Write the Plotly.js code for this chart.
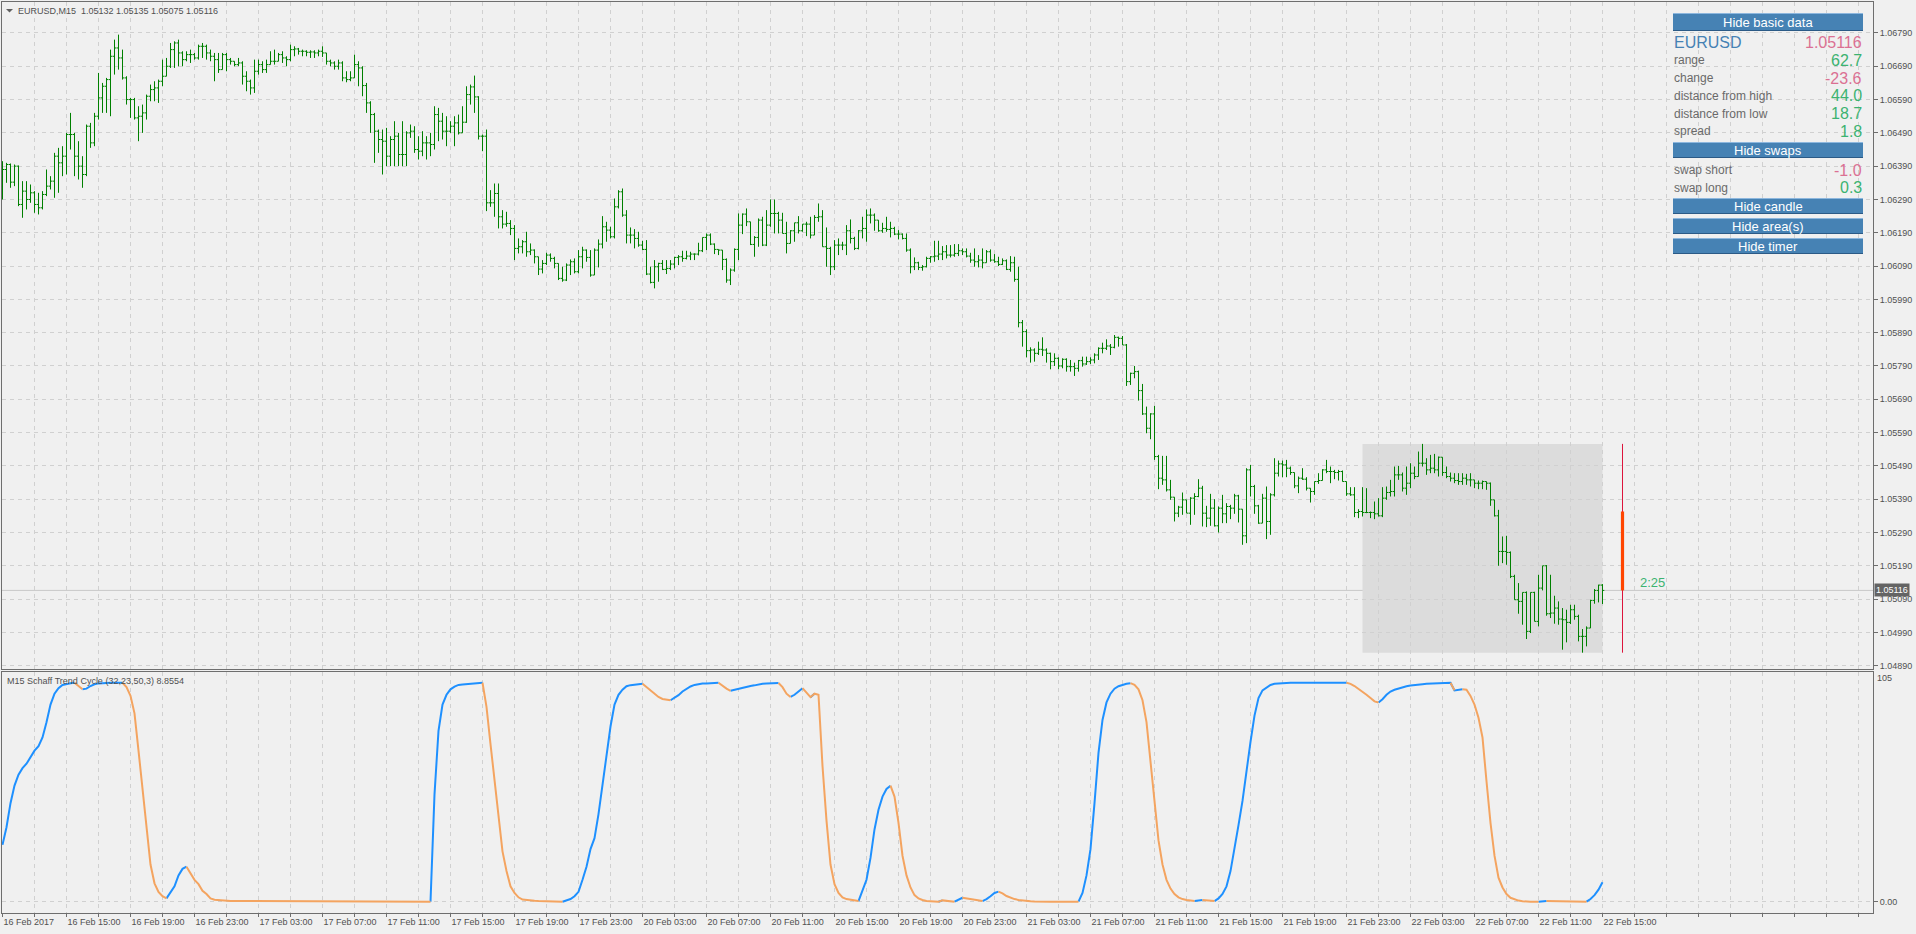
<!DOCTYPE html>
<html><head><meta charset="utf-8">
<script src="https://cdn.plot.ly/plotly-3.0.1.min.js"></script>
<style>html,body{margin:0;padding:0;background:#F0F0F0;overflow:hidden}#chart{width:1916px;height:934px}</style>
</head><body><div id="chart"></div>
<script>
const symbol = 'EURUSD,M15';
const indicatorName = 'M15 Schaff Trend Cycle (32,23,50,3)';
const timeLabels = ['16 Feb 2017','16 Feb 15:00','16 Feb 19:00','16 Feb 23:00','17 Feb 03:00','17 Feb 07:00','17 Feb 11:00','17 Feb 15:00','17 Feb 19:00','17 Feb 23:00','20 Feb 03:00','20 Feb 07:00','20 Feb 11:00','20 Feb 15:00','20 Feb 19:00','20 Feb 23:00','21 Feb 03:00','21 Feb 07:00','21 Feb 11:00','21 Feb 15:00','21 Feb 19:00','21 Feb 23:00','22 Feb 03:00','22 Feb 07:00','22 Feb 11:00','22 Feb 15:00'];
const barsPerLabel = 16;
const dayStartIndex = 340;
const timerText = '2:25';
const panelSymbol = 'EURUSD';
const basicLabels = ['range','change','distance from high','distance from low','spread'];
const basicValues = [62.7, -23.6, 44.0, 18.7, 1.8];
const swapLabels = ['swap short','swap long'];
const swapValues = [-1.0, 0.3];
const buttonLabels = ['Hide basic data','Hide swaps','Hide candle','Hide area(s)','Hide timer'];

const open = [
1.06300,1.06380,1.06395,1.06342,1.06390,1.06275,1.06315,1.06290,1.06310,1.06275,
1.06265,1.06305,1.06330,1.06345,1.06420,1.06400,1.06420,1.06485,1.06485,1.06420,
1.06390,1.06365,1.06510,1.06460,1.06540,1.06595,1.06630,1.06650,1.06720,1.06745,
1.06715,1.06655,1.06590,1.06590,1.06535,1.06540,1.06550,1.06600,1.06620,1.06625,
1.06645,1.06660,1.06690,1.06740,1.06760,1.06730,1.06710,1.06725,1.06725,1.06715,
1.06750,1.06750,1.06730,1.06720,1.06710,1.06680,1.06725,1.06710,1.06705,1.06695,
1.06700,1.06660,1.06645,1.06625,1.06675,1.06695,1.06680,1.06695,1.06705,1.06705,
1.06725,1.06715,1.06710,1.06740,1.06742,1.06735,1.06735,1.06732,1.06733,1.06730,
1.06735,1.06730,1.06705,1.06700,1.06690,1.06700,1.06655,1.06650,1.06655,1.06695,
1.06685,1.06632,1.06580,1.06545,1.06495,1.06470,1.06465,1.06420,1.06470,1.06480,
1.06425,1.06425,1.06490,1.06495,1.06440,1.06435,1.06460,1.06460,1.06455,1.06545,
1.06525,1.06495,1.06495,1.06510,1.06520,1.06490,1.06522,1.06605,1.06628,1.06598,
1.06480,1.06480,1.06280,1.06280,1.06308,1.06238,1.06216,1.06218,1.06203,1.06143,
1.06148,1.06163,1.06133,1.06138,1.06118,1.06081,1.06098,1.06123,1.06113,1.06098,
1.06053,1.06048,1.06093,1.06103,1.06073,1.06118,1.06138,1.06116,1.06063,1.06138,
1.06156,1.06208,1.06198,1.06178,1.06268,1.06313,1.06243,1.06183,1.06183,1.06173,
1.06153,1.06140,1.06066,1.06041,1.06088,1.06098,1.06080,1.06083,1.06096,1.06116,
1.06118,1.06113,1.06120,1.06126,1.06126,1.06136,1.06176,1.06183,1.06156,1.06140,
1.06138,1.06110,1.06048,1.06078,1.06140,1.06213,1.06246,1.06223,1.06155,1.06176,
1.06228,1.06153,1.06213,1.06248,1.06248,1.06228,1.06188,1.06158,1.06196,1.06220,
1.06196,1.06216,1.06216,1.06183,1.06236,1.06238,1.06148,1.06143,1.06088,1.06153,
1.06153,1.06153,1.06196,1.06173,1.06143,1.06196,1.06203,1.06243,1.06243,1.06228,
1.06196,1.06203,1.06200,1.06203,1.06186,1.06186,1.06173,1.06138,1.06088,1.06100,
1.06086,1.06088,1.06113,1.06118,1.06120,1.06126,1.06133,1.06123,1.06123,1.06128,
1.06136,1.06133,1.06120,1.06108,1.06103,1.06108,1.06100,1.06133,1.06108,1.06103,
1.06095,1.06106,1.06080,1.06100,1.06050,1.05920,1.05893,1.05836,1.05838,1.05828,
1.05840,1.05838,1.05828,1.05803,1.05813,1.05790,1.05810,1.05788,1.05788,1.05783,
1.05806,1.05796,1.05803,1.05808,1.05823,1.05843,1.05843,1.05850,1.05846,1.05876,
1.05873,1.05853,1.05743,1.05768,1.05773,1.05716,1.05646,1.05603,1.05646,1.05518,
1.05453,1.05448,1.05418,1.05396,1.05348,1.05366,1.05388,1.05348,1.05393,1.05398,
1.05423,1.05348,1.05333,1.05363,1.05310,1.05363,1.05346,1.05368,1.05363,1.05400,
1.05360,1.05280,1.05478,1.05428,1.05370,1.05318,1.05393,1.05323,1.05403,1.05468,
1.05496,1.05493,1.05483,1.05470,1.05430,1.05453,1.05450,1.05423,1.05413,1.05443,
1.05446,1.05478,1.05473,1.05473,1.05470,1.05473,1.05443,1.05406,1.05403,1.05350,
1.05353,1.05350,1.05350,1.05350,1.05346,1.05340,1.05393,1.05410,1.05413,1.05463,
1.05463,1.05423,1.05438,1.05468,1.05458,1.05498,1.05498,1.05478,1.05483,1.05478,
1.05516,1.05470,1.05458,1.05453,1.05446,1.05443,1.05453,1.05448,1.05448,1.05438,
1.05438,1.05443,1.05438,1.05388,1.05340,1.05233,1.05233,1.05230,1.05158,1.05088,
1.05083,1.05110,1.04993,1.05110,1.05023,1.05123,1.05190,1.05046,1.05048,1.05063,
1.05030,1.05028,1.05020,1.05058,1.05038,1.04978,1.04978,1.05003,1.05086,1.05116,
1.05132];

const high = [
1.06405,1.06400,1.06398,1.06395,1.06392,1.06345,1.06345,1.06335,1.06315,1.06310,
1.06315,1.06380,1.06360,1.06430,1.06445,1.06450,1.06490,1.06550,1.06490,1.06465,
1.06420,1.06515,1.06520,1.06550,1.06670,1.06640,1.06655,1.06740,1.06770,1.06785,
1.06740,1.06660,1.06595,1.06595,1.06570,1.06575,1.06605,1.06635,1.06645,1.06650,
1.06710,1.06715,1.06760,1.06765,1.06770,1.06735,1.06735,1.06740,1.06730,1.06755,
1.06760,1.06755,1.06740,1.06730,1.06730,1.06730,1.06730,1.06715,1.06705,1.06715,
1.06705,1.06675,1.06650,1.06710,1.06710,1.06705,1.06710,1.06735,1.06740,1.06730,
1.06735,1.06720,1.06755,1.06750,1.06745,1.06740,1.06738,1.06738,1.06738,1.06740,
1.06750,1.06730,1.06710,1.06705,1.06710,1.06705,1.06675,1.06675,1.06725,1.06705,
1.06690,1.06640,1.06585,1.06550,1.06500,1.06500,1.06505,1.06480,1.06525,1.06490,
1.06525,1.06495,1.06515,1.06510,1.06480,1.06495,1.06480,1.06490,1.06570,1.06565,
1.06550,1.06540,1.06525,1.06540,1.06545,1.06570,1.06630,1.06635,1.06662,1.06600,
1.06485,1.06500,1.06318,1.06338,1.06338,1.06258,1.06253,1.06228,1.06213,1.06173,
1.06168,1.06193,1.06158,1.06140,1.06118,1.06108,1.06130,1.06128,1.06118,1.06098,
1.06088,1.06098,1.06110,1.06113,1.06138,1.06148,1.06140,1.06138,1.06143,1.06170,
1.06240,1.06223,1.06208,1.06293,1.06318,1.06323,1.06258,1.06206,1.06201,1.06193,
1.06166,1.06168,1.06088,1.06108,1.06100,1.06108,1.06108,1.06108,1.06118,1.06123,
1.06136,1.06136,1.06133,1.06128,1.06160,1.06176,1.06188,1.06188,1.06158,1.06140,
1.06138,1.06113,1.06083,1.06143,1.06248,1.06248,1.06263,1.06223,1.06180,1.06233,
1.06238,1.06258,1.06290,1.06290,1.06253,1.06250,1.06223,1.06198,1.06220,1.06240,
1.06216,1.06223,1.06238,1.06243,1.06278,1.06258,1.06206,1.06148,1.06168,1.06173,
1.06163,1.06213,1.06230,1.06178,1.06198,1.06238,1.06260,1.06263,1.06248,1.06228,
1.06220,1.06238,1.06223,1.06208,1.06198,1.06188,1.06188,1.06143,1.06116,1.06103,
1.06093,1.06118,1.06120,1.06166,1.06166,1.06150,1.06153,1.06153,1.06156,1.06156,
1.06143,1.06143,1.06130,1.06143,1.06123,1.06143,1.06138,1.06140,1.06126,1.06118,
1.06113,1.06110,1.06120,1.06118,1.06088,1.05928,1.05900,1.05846,1.05843,1.05863,
1.05876,1.05843,1.05830,1.05828,1.05816,1.05813,1.05813,1.05808,1.05800,1.05808,
1.05818,1.05818,1.05816,1.05828,1.05846,1.05860,1.05870,1.05856,1.05883,1.05878,
1.05880,1.05856,1.05770,1.05790,1.05776,1.05736,1.05668,1.05648,1.05670,1.05523,
1.05520,1.05520,1.05448,1.05396,1.05370,1.05410,1.05388,1.05396,1.05408,1.05450,
1.05430,1.05370,1.05406,1.05390,1.05368,1.05403,1.05378,1.05373,1.05406,1.05403,
1.05360,1.05483,1.05493,1.05433,1.05373,1.05406,1.05428,1.05408,1.05513,1.05506,
1.05506,1.05508,1.05488,1.05470,1.05458,1.05483,1.05456,1.05423,1.05443,1.05468,
1.05480,1.05508,1.05488,1.05478,1.05478,1.05476,1.05443,1.05426,1.05426,1.05360,
1.05426,1.05423,1.05353,1.05383,1.05393,1.05426,1.05428,1.05448,1.05488,1.05490,
1.05470,1.05488,1.05498,1.05488,1.05533,1.05556,1.05513,1.05523,1.05526,1.05518,
1.05516,1.05488,1.05470,1.05468,1.05468,1.05468,1.05466,1.05468,1.05448,1.05446,
1.05446,1.05443,1.05440,1.05388,1.05358,1.05278,1.05280,1.05233,1.05163,1.05138,
1.05110,1.05113,1.05110,1.05112,1.05163,1.05190,1.05192,1.05163,1.05100,1.05083,
1.05063,1.05058,1.05073,1.05073,1.05043,1.05000,1.05008,1.05088,1.05120,1.05133,
1.05135];

const low = [
1.06290,1.06340,1.06325,1.06330,1.06270,1.06235,1.06260,1.06280,1.06250,1.06245,
1.06260,1.06300,1.06320,1.06295,1.06310,1.06360,1.06365,1.06440,1.06360,1.06350,
1.06325,1.06360,1.06445,1.06450,1.06530,1.06550,1.06550,1.06540,1.06665,1.06680,
1.06650,1.06575,1.06535,1.06530,1.06465,1.06490,1.06530,1.06585,1.06585,1.06580,
1.06630,1.06660,1.06685,1.06685,1.06690,1.06690,1.06705,1.06700,1.06710,1.06710,
1.06715,1.06710,1.06705,1.06645,1.06670,1.06680,1.06675,1.06695,1.06690,1.06690,
1.06635,1.06615,1.06605,1.06610,1.06665,1.06670,1.06670,1.06695,1.06695,1.06705,
1.06700,1.06690,1.06705,1.06720,1.06725,1.06720,1.06720,1.06715,1.06715,1.06720,
1.06718,1.06695,1.06690,1.06680,1.06680,1.06645,1.06642,1.06645,1.06655,1.06630,
1.06600,1.06550,1.06490,1.06400,1.06430,1.06365,1.06390,1.06390,1.06390,1.06390,
1.06390,1.06390,1.06475,1.06430,1.06410,1.06420,1.06410,1.06420,1.06440,1.06465,
1.06470,1.06450,1.06490,1.06450,1.06485,1.06490,1.06520,1.06575,1.06550,1.06470,
1.06435,1.06255,1.06268,1.06238,1.06203,1.06203,1.06208,1.06183,1.06108,1.06128,
1.06128,1.06118,1.06123,1.06098,1.06063,1.06068,1.06093,1.06103,1.06083,1.06048,
1.06043,1.06045,1.06063,1.06068,1.06068,1.06083,1.06103,1.06058,1.06063,1.06086,
1.06143,1.06163,1.06173,1.06173,1.06263,1.06238,1.06158,1.06158,1.06143,1.06148,
1.06138,1.06063,1.06038,1.06023,1.06043,1.06078,1.06066,1.06078,1.06083,1.06093,
1.06103,1.06110,1.06108,1.06108,1.06122,1.06132,1.06138,1.06153,1.06126,1.06123,
1.06078,1.06040,1.06033,1.06073,1.06108,1.06186,1.06210,1.06153,1.06118,1.06148,
1.06150,1.06150,1.06208,1.06188,1.06188,1.06188,1.06128,1.06158,1.06163,1.06188,
1.06193,1.06180,1.06173,1.06183,1.06223,1.06148,1.06088,1.06063,1.06078,1.06123,
1.06138,1.06123,1.06158,1.06138,1.06140,1.06173,1.06163,1.06218,1.06196,1.06193,
1.06190,1.06193,1.06176,1.06183,1.06170,1.06170,1.06133,1.06068,1.06078,1.06078,
1.06076,1.06086,1.06100,1.06103,1.06108,1.06108,1.06113,1.06116,1.06118,1.06120,
1.06123,1.06116,1.06100,1.06088,1.06086,1.06083,1.06100,1.06103,1.06100,1.06090,
1.06093,1.06078,1.06073,1.06043,1.05906,1.05848,1.05816,1.05800,1.05803,1.05823,
1.05820,1.05800,1.05780,1.05790,1.05780,1.05783,1.05773,1.05773,1.05760,1.05773,
1.05788,1.05793,1.05796,1.05798,1.05808,1.05828,1.05838,1.05823,1.05843,1.05848,
1.05853,1.05730,1.05733,1.05753,1.05686,1.05643,1.05588,1.05570,1.05508,1.05420,
1.05433,1.05413,1.05388,1.05323,1.05336,1.05343,1.05348,1.05313,1.05343,1.05396,
1.05308,1.05306,1.05310,1.05308,1.05290,1.05318,1.05318,1.05330,1.05346,1.05320,
1.05253,1.05258,1.05398,1.05346,1.05316,1.05318,1.05270,1.05283,1.05398,1.05458,
1.05456,1.05456,1.05463,1.05423,1.05408,1.05448,1.05416,1.05380,1.05403,1.05436,
1.05446,1.05468,1.05438,1.05450,1.05446,1.05443,1.05400,1.05400,1.05336,1.05333,
1.05338,1.05348,1.05333,1.05330,1.05338,1.05336,1.05388,1.05398,1.05398,1.05448,
1.05413,1.05403,1.05423,1.05450,1.05458,1.05488,1.05463,1.05468,1.05468,1.05458,
1.05460,1.05453,1.05443,1.05438,1.05433,1.05433,1.05433,1.05428,1.05423,1.05420,
1.05420,1.05418,1.05370,1.05338,1.05190,1.05198,1.05193,1.05153,1.05088,1.05046,
1.05013,1.04970,1.04988,1.05023,1.05008,1.05116,1.05040,1.05033,1.05016,1.05013,
1.04938,1.04960,1.05015,1.05028,1.04963,1.04929,1.04948,1.05003,1.05076,1.05080,
1.05075];

const close = [
1.06380,1.06395,1.06342,1.06390,1.06275,1.06315,1.06290,1.06310,1.06275,1.06265,
1.06305,1.06330,1.06345,1.06420,1.06400,1.06420,1.06485,1.06485,1.06420,1.06390,
1.06365,1.06510,1.06460,1.06540,1.06595,1.06630,1.06650,1.06720,1.06745,1.06715,
1.06655,1.06590,1.06590,1.06535,1.06540,1.06550,1.06600,1.06620,1.06625,1.06645,
1.06660,1.06690,1.06740,1.06760,1.06730,1.06710,1.06725,1.06725,1.06715,1.06750,
1.06750,1.06730,1.06720,1.06710,1.06680,1.06725,1.06710,1.06705,1.06695,1.06700,
1.06660,1.06645,1.06625,1.06675,1.06695,1.06680,1.06695,1.06705,1.06705,1.06725,
1.06715,1.06710,1.06740,1.06742,1.06735,1.06735,1.06732,1.06733,1.06730,1.06735,
1.06730,1.06705,1.06700,1.06690,1.06700,1.06655,1.06650,1.06655,1.06695,1.06685,
1.06632,1.06580,1.06545,1.06495,1.06470,1.06465,1.06420,1.06470,1.06480,1.06425,
1.06425,1.06490,1.06495,1.06440,1.06435,1.06460,1.06460,1.06455,1.06545,1.06525,
1.06495,1.06495,1.06510,1.06520,1.06490,1.06522,1.06605,1.06628,1.06598,1.06480,
1.06480,1.06280,1.06280,1.06308,1.06238,1.06216,1.06218,1.06203,1.06143,1.06148,
1.06163,1.06133,1.06138,1.06118,1.06081,1.06098,1.06123,1.06113,1.06098,1.06053,
1.06048,1.06093,1.06103,1.06073,1.06118,1.06138,1.06116,1.06063,1.06138,1.06156,
1.06208,1.06198,1.06178,1.06268,1.06313,1.06243,1.06183,1.06183,1.06173,1.06153,
1.06140,1.06066,1.06041,1.06088,1.06098,1.06080,1.06083,1.06096,1.06116,1.06118,
1.06113,1.06120,1.06126,1.06126,1.06136,1.06176,1.06183,1.06156,1.06140,1.06138,
1.06110,1.06048,1.06078,1.06140,1.06213,1.06246,1.06223,1.06155,1.06176,1.06228,
1.06153,1.06213,1.06248,1.06248,1.06228,1.06188,1.06158,1.06196,1.06220,1.06196,
1.06216,1.06216,1.06183,1.06236,1.06238,1.06148,1.06143,1.06088,1.06153,1.06153,
1.06153,1.06196,1.06173,1.06143,1.06196,1.06203,1.06243,1.06243,1.06228,1.06196,
1.06203,1.06200,1.06203,1.06186,1.06186,1.06173,1.06138,1.06088,1.06100,1.06086,
1.06088,1.06113,1.06118,1.06120,1.06126,1.06133,1.06123,1.06123,1.06128,1.06136,
1.06133,1.06120,1.06108,1.06103,1.06108,1.06100,1.06133,1.06108,1.06103,1.06095,
1.06106,1.06080,1.06100,1.06050,1.05920,1.05893,1.05836,1.05838,1.05828,1.05840,
1.05838,1.05828,1.05803,1.05813,1.05790,1.05810,1.05788,1.05788,1.05783,1.05806,
1.05796,1.05803,1.05808,1.05823,1.05843,1.05843,1.05850,1.05846,1.05876,1.05873,
1.05853,1.05743,1.05768,1.05773,1.05716,1.05646,1.05603,1.05646,1.05518,1.05453,
1.05448,1.05418,1.05396,1.05348,1.05366,1.05388,1.05348,1.05393,1.05398,1.05423,
1.05348,1.05333,1.05363,1.05310,1.05363,1.05346,1.05368,1.05363,1.05400,1.05360,
1.05280,1.05478,1.05428,1.05370,1.05318,1.05393,1.05323,1.05403,1.05468,1.05496,
1.05493,1.05483,1.05470,1.05430,1.05453,1.05450,1.05423,1.05413,1.05443,1.05446,
1.05478,1.05473,1.05473,1.05470,1.05473,1.05443,1.05406,1.05403,1.05350,1.05353,
1.05350,1.05350,1.05350,1.05346,1.05340,1.05393,1.05410,1.05413,1.05463,1.05463,
1.05423,1.05438,1.05468,1.05458,1.05498,1.05498,1.05478,1.05483,1.05478,1.05516,
1.05470,1.05458,1.05453,1.05446,1.05443,1.05453,1.05448,1.05448,1.05438,1.05438,
1.05443,1.05438,1.05388,1.05340,1.05233,1.05233,1.05230,1.05158,1.05088,1.05083,
1.05110,1.04993,1.05110,1.05023,1.05123,1.05190,1.05046,1.05048,1.05063,1.05030,
1.05028,1.05020,1.05058,1.05038,1.04978,1.04978,1.05003,1.05086,1.05116,1.05132,
1.05116];

const stc = [
26,34,45,53,58,61,63,66,69,71,
75,82,90,95,97.5,99,99.5,99.8,100,98.5,
97,97.3,98.5,99.3,99.7,99.9,100,100,100,100,
100,98,94,86,69,51,32,17,8.4,4.5,
2.5,1.5,4,7,12,15,16,13,10,8,
5,3.5,1.5,0.9,0.7,0.6,0.45,0.3,0.3,0.3,
0.3,0.3,0.3,0.3,0.3,0.3,0.3,0.3,0.3,0.3,
0.3,0.3,0.3,0.3,0.3,0.3,0.3,0.3,0.3,0.3,
0.3,0.3,0.3,0.3,0.3,0.3,0.3,0.3,0.3,0.3,
0.3,0.3,0.3,0.3,0.3,0.3,0.3,0.3,0.3,0.3,
0.3,0.3,0.3,0.3,0.3,0.3,0.3,0,49,78,
90,94.5,97,98.2,99,99.2,99.4,99.5,99.6,99.8,
100,89,72,55,37,23,14,7,4,2,
1,0.7,0.5,0.4,0.3,0.25,0.2,0.15,0.1,0.05,
0,0.5,1.2,2.5,4.5,10,16,24,29,40,
53,67,80,90,94.5,96.8,98.4,98.9,99.2,99.4,
99.5,98,96.3,94.8,93.5,92.6,92.2,92,93,94.3,
96,97.3,98.3,99,99.4,99.6,99.7,99.8,99.9,100,
98.5,97.3,96.3,96.8,97.3,97.8,98.1,98.5,98.8,99.3,
99.5,99.6,99.7,99.8,99.9,98,95,93.5,94.5,96,
97.5,95.5,93.4,95,94.5,62,37,17,8,4,
2,1.2,0.8,0.5,0.3,5,10,20,33,42,
48,51.5,53,48,36,21,12,6.5,3,1.5,
0.8,0.3,0.2,0.1,0,0.6,0.4,0.2,0,0.8,
1.8,1.5,1.2,0.9,0.6,0.3,1.2,2.5,4,4.6,
3.8,2.6,1.8,1.2,0.8,0.5,0.3,0.2,0.1,0,
0,0,0,0,0,0,0,0,0,0,
4,12,24,45,68,83,91,95,97.3,98.4,
99.1,99.5,99.8,99,97,92,82,64,43,28,
17,10,6,3.5,2,1.2,0.8,0.5,0.3,0.6,
0.8,0.6,0.4,0.3,1.5,3.5,7,14,24,35,
46,60,73,85,93,96.5,97.8,99,99.5,99.7,
99.8,99.9,100,100,100,100,100,100,100,100,
100,100,100,100,100,100,100,99.5,98.5,97.3,
96,94.5,93,91.5,91,92.5,94.5,96,96.8,97.4,
98,98.4,98.7,99,99.2,99.3,99.5,99.6,99.7,99.8,
99.9,99.9,100,96.5,96.8,97,96.8,94,90,84,
75,55,36,21,11,6.5,3.5,1.8,1,0.5,
0.2,0,0,0,0,0.3,0.3,0.25,0.2,0.15,
0.1,0.1,0.05,0,0,0,0,1.2,3,5.5,
8.8554];

// ---------- geometry helpers (page pixels -> paper) ----------
const W = 1916, H = 934, ML = 2, MR = 43, MT = 2, MB = 21;
const PW = W - ML - MR, PH = H - MT - MB;
const px = x => (x - ML) / PW;
const py = y => (H - MB - y) / PH;

const n = close.length;
const last = n - 1;
const xIdx = close.map((_, i) => i);
const lastClose = close[last];

// indicator colouring: blue when rising, orange when falling
const dir = [];
let d = 1;
for (let i = 0; i < n; i++) {
  if (i > 0) { if (stc[i] > stc[i-1]) d = 1; else if (stc[i] < stc[i-1]) d = -1; }
  dir.push(d);
}
const segY = s => stc.map((v, i) => (dir[i] === s && i > 0) || (i + 1 < n && dir[i+1] === s) ? v : null);
const blueY = segY(1), orangeY = segY(-1);

// today's area (box) and daily candle from data
const dayHigh = Math.max(...high.slice(dayStartIndex));
const dayLow = Math.min(...low.slice(dayStartIndex));
const dayOpen = open[dayStartIndex];
const candleX = last + 5;

// x ticks
const gridVals = [], gridText = [];
for (let v = 0; v <= 467; v += barsPerLabel / 2) {
  gridVals.push(v);
  const k = v / barsPerLabel;
  gridText.push(Number.isInteger(k) && k < timeLabels.length ? timeLabels[k] : '');
}

const FONT = 'Liberation Sans, Arial, sans-serif';
const AXC = '#6E6E6E', GRID = '#D0D0D0', TXT = '#505050';

const traces = [
  { type: 'ohlc', x: xIdx, open: open, high: high, low: low, close: close,
    xaxis: 'x', yaxis: 'y', tickwidth: 0.45, hoverinfo: 'skip',
    increasing: { line: { color: '#008000', width: 1 } },
    decreasing: { line: { color: '#008000', width: 1 } } },
  { type: 'scatter', mode: 'lines', x: xIdx, y: blueY, xaxis: 'x2', yaxis: 'y2',
    line: { color: '#1E90FF', width: 2 }, connectgaps: false, hoverinfo: 'skip' },
  { type: 'scatter', mode: 'lines', x: xIdx, y: orangeY, xaxis: 'x2', yaxis: 'y2',
    line: { color: '#F4A460', width: 2 }, connectgaps: false, hoverinfo: 'skip' }
];

const xr = [-0.125, -0.125 + PW / 4];
const baseX = {
  range: xr, showgrid: true, gridcolor: GRID, griddash: '4px,4px', gridwidth: 1,
  tickmode: 'array', tickvals: gridVals, showline: true, mirror: true, linecolor: AXC,
  linewidth: 1, zeroline: false, fixedrange: true
};

const shapes = [
  { type: 'rect', xref: 'x', yref: 'y', x0: dayStartIndex, x1: last, y0: dayLow, y1: dayHigh,
    fillcolor: '#DCDCDC', line: { width: 0 }, layer: 'below' },
  { type: 'line', xref: 'paper', yref: 'y', x0: 0, x1: 1, y0: lastClose, y1: lastClose,
    line: { color: '#C8C8C8', width: 1 }, layer: 'between' },
  { type: 'line', xref: 'x', yref: 'y', x0: candleX, x1: candleX, y0: dayLow, y1: dayHigh,
    line: { color: '#DC143C', width: 1 } },
  { type: 'rect', xref: 'x', yref: 'y', x0: candleX - 0.4, x1: candleX + 0.4, y0: dayOpen, y1: lastClose,
    fillcolor: '#FF4500', line: { width: 0 } },
  { type: 'path', xref: 'paper', yref: 'paper',
    path: `M ${px(6)} ${py(9)} L ${px(13)} ${py(9)} L ${px(9.5)} ${py(12.5)} Z`,
    fillcolor: '#606060', line: { width: 0 } }
];

const annotations = [
  { xref: 'paper', yref: 'paper', x: px(16), y: py(11), xanchor: 'left', yanchor: 'middle', showarrow: false,
    text: symbol + '\u00A0\u00A0' + [open[last], high[last], low[last], close[last]].map(v => v.toFixed(5)).join(' '),
    font: { family: FONT, size: 9, color: TXT } },
  { xref: 'paper', yref: 'paper', x: px(5), y: py(681), xanchor: 'left', yanchor: 'middle', showarrow: false,
    text: indicatorName + ' ' + stc[last].toFixed(4), font: { family: FONT, size: 9, color: TXT } },
  { xref: 'paper', yref: 'paper', x: px(1875), y: py(678), xanchor: 'left', yanchor: 'middle', showarrow: false,
    text: '105', font: { family: FONT, size: 9, color: TXT } },
  { xref: 'paper', yref: 'y', x: px(1874), y: lastClose, xanchor: 'left', yanchor: 'middle', showarrow: false,
    text: lastClose.toFixed(5), bgcolor: '#646464', borderpad: 1,
    font: { family: FONT, size: 9, color: '#FFFFFF' } },
  { xref: 'x', yref: 'y', x: candleX + 3.9, y: lastClose, yshift: 8, xanchor: 'left', yanchor: 'middle', showarrow: false,
    text: timerText, font: { family: FONT, size: 13, color: '#3CB371' } }
];

// information panel
const PX0 = 1673, PX1 = 1863;
const btnRows = [[13, 31], [142, 158], [198, 214], [218, 234], [238, 254]];
btnRows.forEach((r, k) => {
  shapes.push({ type: 'rect', xref: 'paper', yref: 'paper', x0: px(PX0), x1: px(PX1), y0: py(r[1]), y1: py(r[0]),
    fillcolor: '#4682B4', line: { width: 0 } });
  shapes.push({ type: 'line', xref: 'paper', yref: 'paper', x0: px(PX0), x1: px(PX1), y0: py(r[0] + 0.5), y1: py(r[0] + 0.5),
    line: { color: '#8DB7DE', width: 1 } });
  shapes.push({ type: 'line', xref: 'paper', yref: 'paper', x0: px(PX0), x1: px(PX1), y0: py(r[1] - 0.5), y1: py(r[1] - 0.5),
    line: { color: '#2B5A86', width: 1 } });
  annotations.push({ xref: 'paper', yref: 'paper', x: px((PX0 + PX1) / 2), y: py((r[0] + r[1]) / 2 + 0.5),
    xanchor: 'center', yanchor: 'middle', showarrow: false, text: buttonLabels[k],
    font: { family: FONT, size: 13, color: '#FFFFFF' } });
});
const GREEN = '#3CB371', PINK = '#DB7093', LBL = '#6A6A6A';
annotations.push({ xref: 'paper', yref: 'paper', x: px(PX0 - 1), y: py(42), xanchor: 'left', yanchor: 'middle', showarrow: false,
  text: panelSymbol, font: { family: FONT, size: 16, color: '#4682B4' } });
annotations.push({ xref: 'paper', yref: 'paper', x: px(PX1 + 1), y: py(42), xanchor: 'right', yanchor: 'middle', showarrow: false,
  text: lastClose.toFixed(5), font: { family: FONT, size: 16, color: PINK } });
const rowY1 = [60, 78, 96, 114, 131], rowY2 = [170, 188];
const addRows = (labels, values, ys) => labels.forEach((lab, k) => {
  annotations.push({ xref: 'paper', yref: 'paper', x: px(PX0 - 1), y: py(ys[k]), xanchor: 'left', yanchor: 'middle', showarrow: false,
    text: lab, font: { family: FONT, size: 12, color: LBL } });
  annotations.push({ xref: 'paper', yref: 'paper', x: px(PX1 + 1), y: py(ys[k]), xanchor: 'right', yanchor: 'middle', showarrow: false,
    text: values[k].toFixed(1), font: { family: FONT, size: 16, color: values[k] < 0 ? PINK : GREEN } });
});
addRows(basicLabels, basicValues, rowY1);
addRows(swapLabels, swapValues, rowY2);

const layout = {
  width: W, height: H, margin: { l: ML, r: MR, t: MT, b: MB, pad: 0 },
  paper_bgcolor: '#F0F0F0', plot_bgcolor: '#F0F0F0', showlegend: false, hovermode: false,
  font: { family: FONT, size: 9, color: TXT },
  xaxis: Object.assign({}, baseX, { anchor: 'y', showticklabels: false, ticks: '', rangeslider: { visible: false } }),
  xaxis2: Object.assign({}, baseX, { anchor: 'y2', ticktext: gridText, showticklabels: true,
    ticks: 'outside', ticklen: 3, tickcolor: AXC, ticklabelposition: 'outside right',
    tickfont: { family: FONT, size: 9, color: TXT }, rangeslider: { visible: false } }),
  yaxis: { domain: [py(669), 1], range: [1.04880, 1.04880 + 667 / 33300], side: 'right', anchor: 'x',
    tickmode: 'linear', tick0: 1.04890, dtick: 0.001, tickformat: '.5f',
    ticks: 'outside', ticklen: 4, tickcolor: AXC, tickfont: { family: FONT, size: 9, color: TXT },
    showgrid: true, gridcolor: GRID, griddash: '4px,4px', showline: true, mirror: true, linecolor: AXC,
    zeroline: false, fixedrange: true },
  yaxis2: { domain: [0, py(672)], range: [-5.16, 104.9], side: 'right', anchor: 'x2',
    tickmode: 'array', tickvals: [0], ticktext: ['0.00'],
    ticks: 'outside', ticklen: 4, tickcolor: AXC, tickfont: { family: FONT, size: 9, color: TXT },
    showgrid: true, gridcolor: GRID, griddash: '4px,4px', showline: true, mirror: true, linecolor: AXC,
    zeroline: false, fixedrange: true },
  shapes: shapes,
  annotations: annotations
};

Plotly.newPlot('chart', traces, layout, { staticPlot: true, displayModeBar: false });
</script>
</body></html>
